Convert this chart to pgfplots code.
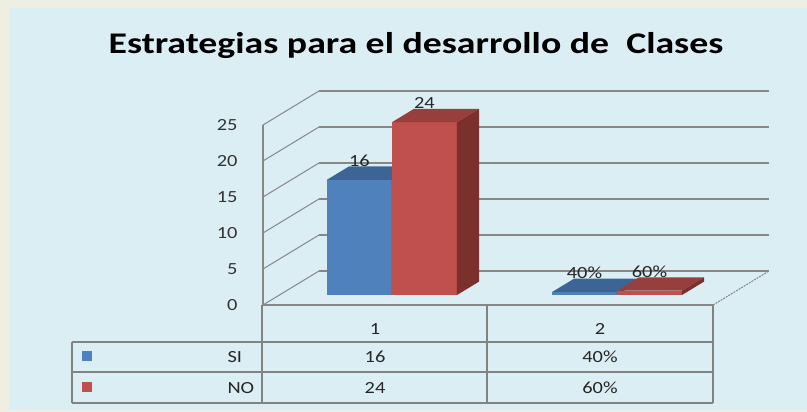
\documentclass[border=0pt]{standalone}
\usepackage{pgfplots}
\pgfplotsset{compat=1.18}
\usepackage{fontspec}
\setmainfont{Carlito}
\newfontfamily\ttl[FakeStretch=1.26]{Carlito}
\newfontfamily\sm[FakeStretch=1.2]{Carlito}
\definecolor{bg}{HTML}{DBEEF4}
\definecolor{cream}{HTML}{EEEEE2}
\definecolor{gridc}{HTML}{878787}
\definecolor{tabc}{HTML}{828282}
\definecolor{sifront}{HTML}{4F81BD}
\definecolor{sitop}{HTML}{3C6494}
\definecolor{siside}{HTML}{345680}
\definecolor{nofront}{HTML}{C0504D}
\definecolor{notop}{HTML}{963F3C}
\definecolor{noside}{HTML}{7B302E}
\pgfdeclarelayer{background}
\pgfsetlayers{background,main}
\newcommand\smf{\sm\fontsize{17}{17}\selectfont}
% #1 left, #2 right, #3 centre, #4 value, #5 front, #6 top, #7 side, #8 label
\newcommand\tdbar[8]{%
\addplot3[fill=#5,draw=none] coordinates {(#1,0.294,0) (#2,0.294,0) (#2,0.294,#4) (#1,0.294,#4)};
\addplot3[fill=#6,draw=none] coordinates {(#1,0.294,#4) (#2,0.294,#4) (#2,0.688,#4) (#1,0.688,#4)};
\addplot3[fill=#7,draw=none] coordinates {(#2,0.294,0) (#2,0.688,0) (#2,0.688,#4) (#2,0.294,#4)};
\node[font=\smf, text=black!85, yshift=19pt] at (axis cs:#3,0.294,#4) {#8};
}
\begin{document}
\begin{tikzpicture}
\begin{axis}[
  x={(225pt,0pt)}, y={(56pt,34pt)}, z={(0pt,7.2pt)},
  xmin=0.5, xmax=2.5, ymin=0, ymax=1, zmin=0, zmax=25,
  hide axis, clip=false, no markers,
]
% back wall grid lines
\addplot3[gridc, line width=1.3pt] coordinates {(0.5,1,0) (2.5,1,0)};
\addplot3[gridc, line width=1.3pt] coordinates {(0.5,1,5) (2.5,1,5)};
\addplot3[gridc, line width=1.3pt] coordinates {(0.5,1,10) (2.5,1,10)};
\addplot3[gridc, line width=1.3pt] coordinates {(0.5,1,15) (2.5,1,15)};
\addplot3[gridc, line width=1.3pt] coordinates {(0.5,1,20) (2.5,1,20)};
\addplot3[gridc, line width=1.3pt] coordinates {(0.5,1,25) (2.5,1,25)};
% side wall
\addplot3[gridc, line width=1pt] coordinates {(0.5,0,0) (0.5,1,0)};
\addplot3[gridc, line width=1pt] coordinates {(0.5,0,5) (0.5,1,5)};
\addplot3[gridc, line width=1pt] coordinates {(0.5,0,10) (0.5,1,10)};
\addplot3[gridc, line width=1pt] coordinates {(0.5,0,15) (0.5,1,15)};
\addplot3[gridc, line width=1pt] coordinates {(0.5,0,20) (0.5,1,20)};
\addplot3[gridc, line width=1pt] coordinates {(0.5,0,25) (0.5,1,25)};
\addplot3[gridc, line width=1.5pt] coordinates {(0.5,0,0) (0.5,0,25)};
% floor
\addplot3[gridc, line width=1.2pt] coordinates {(0.5,0,0) (2.5,0,0)};
\addplot3[gridc, line width=1pt, dash pattern=on 2pt off 1pt] coordinates {(2.5,0,0) (2.5,1,0)};
% bars
\tdbar{0.711}{1.0}{0.8555}{16}{sifront}{sitop}{siside}{16}
\tdbar{1.0}{1.289}{1.1445}{24}{nofront}{notop}{noside}{24}
\tdbar{1.711}{2.0}{1.8555}{0.4}{sifront}{sitop}{siside}{40\%}
\tdbar{2.0}{2.289}{2.1445}{0.6}{nofront}{notop}{noside}{60\%}
% tick labels
\node[font=\smf, text=black!80, anchor=east] at ([xshift=-22pt]axis cs:0.5,0,0) {0};
\node[font=\smf, text=black!80, anchor=east] at ([xshift=-22pt]axis cs:0.5,0,5) {5};
\node[font=\smf, text=black!80, anchor=east] at ([xshift=-22pt]axis cs:0.5,0,10) {10};
\node[font=\smf, text=black!80, anchor=east] at ([xshift=-22pt]axis cs:0.5,0,15) {15};
\node[font=\smf, text=black!80, anchor=east] at ([xshift=-22pt]axis cs:0.5,0,20) {20};
\node[font=\smf, text=black!80, anchor=east] at ([xshift=-22pt]axis cs:0.5,0,25) {25};
\coordinate (O) at (axis cs:0,0,0);
\end{axis}
\pgfresetboundingbox
\begin{scope}[shift={(O)}, xshift=-150.5pt, yshift=305pt, x=1pt, y=-1pt]
\path[use as bounding box] (0,0) rectangle (807,412);
\begin{pgfonlayer}{background}
\fill[cream] (0,0) rectangle (807,412);
\fill[bg] (9,8) rectangle (808,410);
\end{pgfonlayer}
\node[font=\ttl\bfseries\fontsize{30}{30}\selectfont, anchor=base, text=black] at (416,54) {Estrategias para el desarrollo de\ \ Clases};
% table
\draw[tabc, line width=1.6pt] (72,342) -- (713,342);
\draw[tabc, line width=1.6pt] (72,372) -- (713,372);
\draw[tabc, line width=1.6pt] (72,403) -- (713,403);
\draw[tabc, line width=1.6pt] (72,342) -- (72,403);
\draw[tabc, line width=1.6pt] (262,305) -- (262,403);
\draw[tabc, line width=1.6pt] (487,305) -- (487,403);
\draw[tabc, line width=1.6pt] (713,305) -- (713,403);
\fill[sifront] (82,351) rectangle (92,361);
\fill[nofront] (82,382) rectangle (92,392);
\node[font=\smf, text=black!85, anchor=west] at (224,357) {SI};
\node[font=\smf, text=black!85, anchor=west] at (224,388) {NO};
\node[font=\smf, text=black!85] at (375,329) {1};
\node[font=\smf, text=black!85] at (600,329) {2};
\node[font=\smf, text=black!85] at (375,357) {16};
\node[font=\smf, text=black!85] at (600,357) {40\%};
\node[font=\smf, text=black!85] at (375,388) {24};
\node[font=\smf, text=black!85] at (600,388) {60\%};
\end{scope}
\end{tikzpicture}
\end{document}
